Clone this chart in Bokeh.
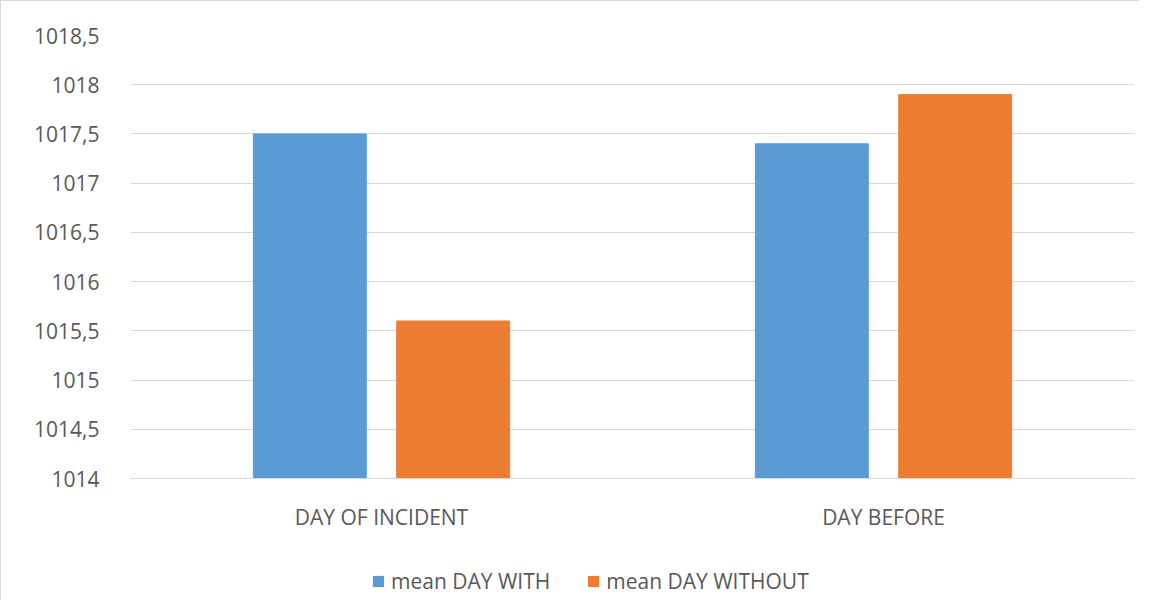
from bokeh.plotting import figure
from bokeh.layouts import column
from bokeh.models import (ColumnDataSource, FactorRange, Range1d, FixedTicker,
                          CustomJSTickFormatter, Legend, LegendItem)
from bokeh.transform import dodge
from bokeh.embed import file_html
from bokeh.resources import INLINE

categories = ["DAY OF INCIDENT", "DAY BEFORE"]
mean_day_with = [1017.5, 1017.4]
mean_day_without = [1015.6, 1017.9]
series_names = ["mean DAY WITH", "mean DAY WITHOUT"]
series_colors = ["#5B9BD5", "#ED7D31"]
y_ticks = [1014, 1014.5, 1015, 1015.5, 1016, 1016.5, 1017, 1017.5, 1018, 1018.5]

FONT = "Open Sans"
TXT = "#595959"
GRID = "#d9d9d9"
FS = "21px"

source = ColumnDataSource(data=dict(cat=categories, with_=mean_day_with, without=mean_day_without))

p = figure(width=1139, height=540, output_backend="svg", toolbar_location=None,
           x_range=FactorRange(factors=categories, range_padding=0),
           y_range=Range1d(1014, 1018.5),
           min_border_left=129, min_border_right=6, min_border_top=34, min_border_bottom=63)
p.styles = {"border-left": f"1px solid {GRID}", "border-top": f"1px solid {GRID}"}
p.outline_line_color = None

p.vbar(x=dodge("cat", -0.1428, range=p.x_range), top="with_", bottom=1014, width=0.225,
       source=source, fill_color=series_colors[0], line_color=series_colors[0])
p.vbar(x=dodge("cat", 0.1428, range=p.x_range), top="without", bottom=1014, width=0.225,
       source=source, fill_color=series_colors[1], line_color=series_colors[1])

p.yaxis.ticker = FixedTicker(ticks=y_ticks)
p.yaxis.formatter = CustomJSTickFormatter(code="return tick.toString().replace('.', ',');")
p.yaxis.axis_line_color = None
p.yaxis.major_tick_line_color = None
p.yaxis.minor_tick_line_color = None
p.yaxis.major_label_standoff = 25
p.yaxis.major_label_text_font = FONT
p.yaxis.major_label_text_font_size = FS
p.yaxis.major_label_text_color = TXT

p.xaxis.axis_line_color = GRID
p.xaxis.major_tick_line_color = None
p.xaxis.minor_tick_line_color = None
p.xaxis.major_label_standoff = 18
p.xaxis.major_label_text_font = FONT
p.xaxis.major_label_text_font_size = FS
p.xaxis.major_label_text_color = TXT

p.xgrid.grid_line_color = None
p.ygrid.grid_line_color = GRID
p.ygrid.grid_line_width = 1

# legend strip below the chart: same series with zero-width bars, so only the legend swatches show
lf = figure(width=1139, height=60, output_backend="svg", toolbar_location=None,
            x_range=FactorRange(factors=categories, range_padding=0), y_range=Range1d(0, 1),
            min_border=0, min_border_left=0, min_border_right=0, min_border_top=0, min_border_bottom=0)
lf.styles = {"border-left": f"1px solid {GRID}"}
lf.axis.visible = False
lf.grid.visible = False
lf.outline_line_color = None
lr1 = lf.vbar(x=dodge("cat", -0.1428, range=lf.x_range), top="with_", bottom=1014, width=0,
              source=source, fill_color=series_colors[0], line_alpha=0)
lr2 = lf.vbar(x=dodge("cat", 0.1428, range=lf.x_range), top="without", bottom=1014, width=0,
              source=source, fill_color=series_colors[1], line_alpha=0)

legend = Legend(items=[LegendItem(label=series_names[0], renderers=[lr1]),
                       LegendItem(label=series_names[1], renderers=[lr2])],
                orientation="horizontal", location=(241, 5),
                padding=0, margin=0, spacing=36, label_standoff=6,
                glyph_width=14, glyph_height=14,
                label_text_font=FONT, label_text_font_size=FS, label_text_color=TXT,
                background_fill_alpha=0, border_line_alpha=0)
lf.add_layout(legend, "center")

layout = column(p, lf, spacing=0)
open("out.html", "w").write(file_html(layout, INLINE))
